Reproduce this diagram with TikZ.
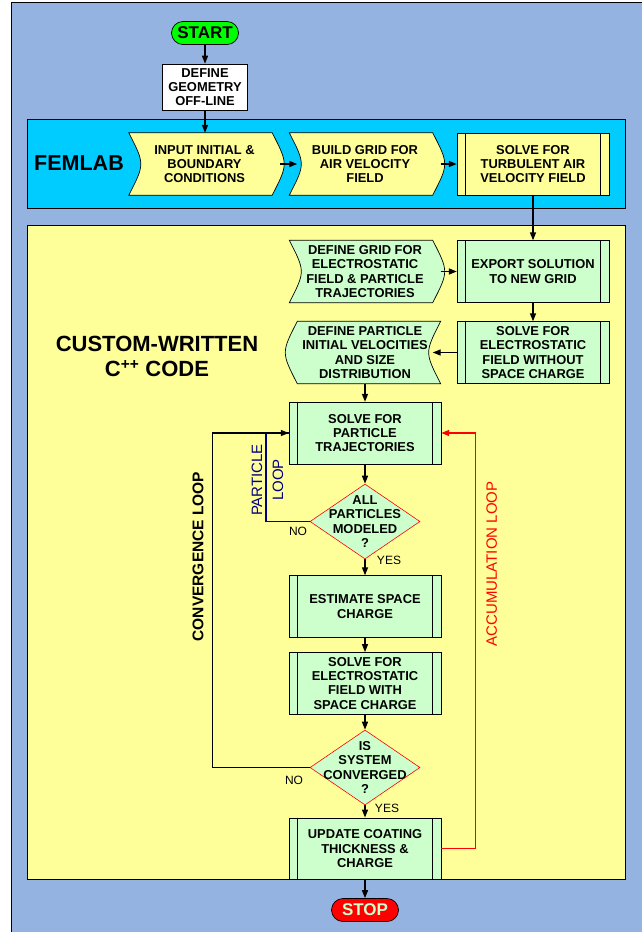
\documentclass[tikz,border=0pt]{standalone}
\usepackage{fontspec}
\setmainfont{Liberation Sans}
\usetikzlibrary{arrows.meta,shapes.geometric,backgrounds}
\definecolor{skyback}{RGB}{149,179,224}
\definecolor{femcyan}{RGB}{0,204,255}
\definecolor{codeyel}{RGB}{255,255,153}
\definecolor{boxgrn}{RGB}{204,255,204}
\definecolor{startgrn}{RGB}{0,255,0}
\definecolor{loopnavy}{RGB}{0,0,128}
\tikzset{
  txt/.style={font=\bfseries\fontsize{12.9}{14.3}\selectfont,align=center,inner sep=0pt},
  procbox/.style={txt,draw,fill=boxgrn,minimum width=151.7pt,minimum height=61.7pt,line width=0.7pt,
    path picture={\draw[line width=0.7pt]
      ([xshift=8.5pt]path picture bounding box.north west) -- ([xshift=8.5pt]path picture bounding box.south west)
      ([xshift=-8.5pt]path picture bounding box.north east) -- ([xshift=-8.5pt]path picture bounding box.south east);}},
  tapebox/.style={txt,minimum width=151pt,minimum height=62pt},
  decide/.style={diamond,draw=red,fill=boxgrn,line width=0.6pt,minimum width=110pt,minimum height=75pt,inner sep=0pt},
  termbox/.style={rectangle,rounded corners=11.5pt,draw,line width=0.7pt,minimum width=67pt,minimum height=23pt,
    font=\bfseries\fontsize{17}{18}\selectfont,inner sep=0pt},
  arr/.style={-{Triangle[length=8pt,width=6pt]},line width=1.4pt},
  ans/.style={font=\fontsize{12}{14}\selectfont,inner sep=0pt},
  looplbl/.style={rotate=90,align=center,inner sep=0pt,font=\fontsize{15}{21}\selectfont},
}

\begin{document}
\begin{tikzpicture}[x=1pt,y=-1pt]
\useasboundingbox (0,0) rectangle (642,932);
% panels
\begin{scope}[on background layer]
  \draw[fill=skyback,line width=0.8pt] (11,2) rectangle (660,950);
  \draw[fill=femcyan,line width=0.8pt] (27.5,119.5) rectangle (625.5,208);
  \draw[fill=codeyel,line width=0.8pt] (27.5,225.5) rectangle (625.5,879.5);
\end{scope}
\node[font=\bfseries\fontsize{21.5}{24}\selectfont] (fem) at (79,163) {FEMLAB};
\node[align=center,font=\bfseries\fontsize{22}{25}\selectfont] (cpp) at (157,356.5)
  {CUSTOM-WRITTEN\\C\textsuperscript{++} CODE};

% main column
\node[termbox,fill=startgrn] (start) at (205,33) {START};
\node[txt,draw,fill=white,minimum width=84.5pt,minimum height=46pt,line width=0.7pt] (geom) at (205,87)
  {DEFINE\\GEOMETRY\\OFF-LINE};
\node[tapebox] (inp) at (204.5,164) {INPUT INITIAL \&\\BOUNDARY\\CONDITIONS};
\node[tapebox] (grid) at (365,164) {BUILD GRID FOR\\AIR VELOCITY\\FIELD};
\node[procbox,fill=codeyel] (turb) at (533,164) {SOLVE FOR\\TURBULENT AIR\\VELOCITY FIELD};
\node[tapebox] (dgrid) at (365,271.5) {DEFINE GRID FOR\\ELECTROSTATIC\\FIELD \& PARTICLE\\TRAJECTORIES};
\node[procbox] (expo) at (533,271.5) {EXPORT SOLUTION\\TO NEW GRID};
\node[tapebox] (ptcl) at (365,352.5) {DEFINE PARTICLE\\INITIAL VELOCITIES\\AND SIZE\\DISTRIBUTION};
\node[procbox] (solw) at (533,352.5) {SOLVE FOR\\ELECTROSTATIC\\FIELD WITHOUT\\SPACE CHARGE};
\node[procbox] (traj) at (365,433) {SOLVE FOR\\PARTICLE\\TRAJECTORIES};
\node[decide,label={[txt]center:{ALL\\PARTICLES\\MODELED\\?}}] (allp) at (365,521.5) {};
\node[procbox] (est) at (365,606.5) {ESTIMATE SPACE\\CHARGE};
\node[procbox] (solsc) at (365,683.3) {SOLVE FOR\\ELECTROSTATIC\\FIELD WITH\\SPACE CHARGE};
\node[decide,label={[txt]center:{IS\\SYSTEM\\CONVERGED\\?}}] (conv) at (365,767.5) {};
\node[procbox] (upd) at (365,848.7) {UPDATE COATING\\THICKNESS \&\\CHARGE};
\node[termbox,fill=red,text=boxgrn] (stop) at (365,910) {STOP};

% tape outlines behind the text
\begin{scope}[on background layer]
\foreach \n/\c in {inp/codeyel,grid/codeyel,dgrid/boxgrn}
  \draw[fill=\c,line width=0.7pt] (\n.north west) -- ([xshift=-8pt]\n.north east)
    .. controls ([xshift=8pt]\n.east) .. ([xshift=-8pt]\n.south east)
    -- (\n.south west) .. controls ([xshift=16pt]\n.west) .. (\n.north west) -- cycle;
\draw[fill=boxgrn,line width=0.7pt] ([xshift=8pt]ptcl.north west) -- (ptcl.north east)
  .. controls ([xshift=-16pt]ptcl.east) .. (ptcl.south east)
  -- ([xshift=8pt]ptcl.south west) .. controls ([xshift=-8pt]ptcl.west) .. ([xshift=8pt]ptcl.north west) -- cycle;
\end{scope}

\draw[arr] (start) -- (geom);
\draw[arr] (geom) -- (geom |- inp.north);
\draw[arr] (inp.east) -- ([xshift=8pt]grid.west);
\draw[arr] (grid.east) -- (turb.west);
\draw[arr] (turb) -- (expo);
\draw[arr] (dgrid.east) -- (expo.west);
\draw[arr] (expo) -- (solw);
\draw[arr] (solw.west) -- ([xshift=-8pt]ptcl.east);
\draw[arr] (ptcl) -- (traj);
\draw[arr] (traj) -- (allp);
\draw[arr] (allp) -- (est);
\draw[arr] (est) -- (solsc);
\draw[arr] (solsc) -- (conv);
\draw[arr] (conv) -- (upd);
\draw[arr] (upd) -- (stop);

% loops
\coordinate (plx) at (266,0);
\coordinate (cvx) at (212.7,0);
\coordinate (acx) at (475.7,0);
\draw[loopnavy,line width=1.4pt] (allp.west) -| (plx |- traj.west) -- (traj.west);
\draw[arr] (conv.west) -| (cvx |- traj.west) -- (traj.west);
\draw[arr,red] (upd.east) -| (acx |- traj.east) -- (traj.east);

\node[ans] (no1) at (298,531.7) {NO};
\node[ans] (yes1) at (389,560) {YES};
\node[ans] (no2) at (294,780) {NO};
\node[ans] (yes2) at (387,808) {YES};
\node[looplbl,text=loopnavy] (plbl) at (267.5,480) {PARTICLE\\LOOP};
\node[looplbl,font=\bfseries\fontsize{15.5}{18}\selectfont] (cvlbl) at (198,556.5) {CONVERGENCE LOOP};
\node[looplbl,text=red] (aclbl) at (491.7,564) {ACCUMULATION LOOP};
\end{tikzpicture}
\end{document}
